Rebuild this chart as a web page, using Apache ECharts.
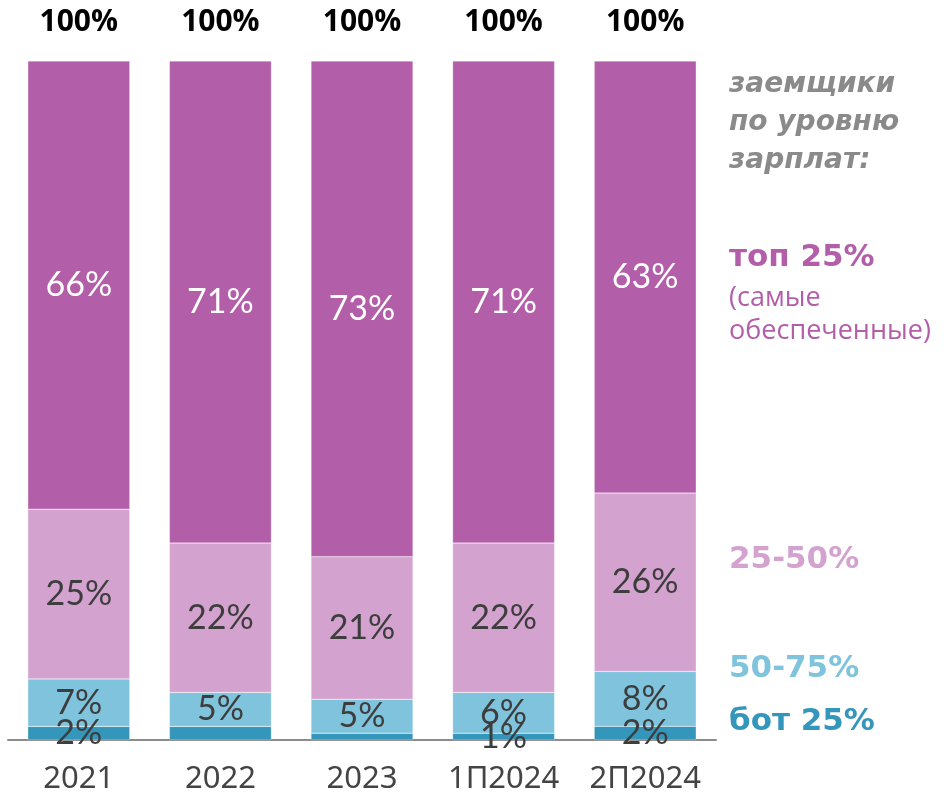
<!DOCTYPE html>
<html>
<head>
<meta charset="utf-8">
<script src="https://cdn.jsdelivr.net/npm/echarts@6/dist/echarts.min.js"></script>
<style>
  html, body { margin: 0; padding: 0; background: #fff; }
  #chart { width: 944px; height: 795px; }
</style>
</head>
<body>
<div id="chart"></div>
<script>
// periods and shares of borrowers by salary level, %
const categories = ["2021", "2022", "2023", "1П2024", "2П2024"];
const bot25 = [2, 2, 1, 1, 2];
const mid5075 = [7, 5, 5, 6, 8];
const mid2550 = [25, 22, 21, 22, 26];
const top25 = [66, 71, 73, 71, 63];
const totals = [100, 100, 100, 100, 100];
// bottom labels are hidden where the segment is too thin (2022, 2023)
const botLabelShown = [true, false, false, true, true];

const colors = {
  top: "#b35ea8",
  mid2550: "#d4a2ce",
  mid5075: "#7fc3dc",
  bot: "#3396ba",
};

// bars are drawn as share of the column sum so every column reaches 100%
const sums = categories.map((_, i) => bot25[i] + mid5075[i] + mid2550[i] + top25[i]);
const norm = (arr) => arr.map((v, i) => (v / sums[i]) * 100);

const labelFont = "Lato, 'Open Sans', sans-serif";
const legendFont = "'DejaVu Sans', sans-serif";

function makeSeries(name, values, color) {
  return {
    name: name,
    type: "bar",
    stack: "total",
    barWidth: 102,
    data: norm(values),
    itemStyle: { color: color, borderColor: "rgba(255,255,255,0.5)", borderWidth: 0.5 },
    label: {
      show: true,
      position: "inside",
      fontFamily: labelFont,
      fontSize: 34,
      color: "#3d3d3d",
      formatter: (p) => values[p.dataIndex] + "%",
    },
  };
}

const botSeries = makeSeries("бот 25%", bot25, colors.bot);
botSeries.data = botSeries.data.map((v, i) => ({ value: v, label: { show: botLabelShown[i] } }));

const topSeries = makeSeries("топ 25%", top25, colors.top);
topSeries.label.color = "#ffffff";

// invisible helper series for the "100%" totals above each column
const totalSeries = {
  name: "total",
  type: "bar",
  stack: "total",
  barWidth: 102,
  data: totals.map(() => 0),
  itemStyle: { color: "transparent" },
  label: {
    show: true,
    position: "top",
    distance: 24,
    fontFamily: "'Open Sans', sans-serif",
    fontWeight: "bold",
    fontSize: 30,
    color: "#000",
    formatter: (p) => totals[p.dataIndex] + "%",
  },
  silent: true,
};

function legendText(text, y, font, fill) {
  return {
    type: "text",
    x: 729,
    y: y,
    style: { text: text, font: font, fill: fill, verticalAlign: "middle" },
  };
}

const option = {
  backgroundColor: "#fff",
  animation: false,
  grid: {
    left: 8,
    right: 228,
    top: 61,
    bottom: 55,
  },
  xAxis: {
    type: "category",
    data: categories,
    axisTick: { show: false },
    axisLine: { lineStyle: { color: "#8c8c8c", width: 2 } },
    axisLabel: {
      interval: 0,
      hideOverlap: false,
      margin: 24,
      fontFamily: "'Noto Sans', sans-serif",
      fontSize: 31,
      color: "#444",
    },
  },
  yAxis: {
    type: "value",
    min: 0,
    max: 100,
    show: false,
    splitLine: { show: false },
  },
  series: [
    botSeries,
    makeSeries("50-75%", mid5075, colors.mid5075),
    makeSeries("25-50%", mid2550, colors.mid2550),
    topSeries,
    totalSeries,
  ],
  graphic: [
    legendText("заемщики", 85, "italic bold 28px " + legendFont, "#8a8a8a"),
    legendText("по уровню", 123, "italic bold 28px " + legendFont, "#8a8a8a"),
    legendText("зарплат:", 161, "italic bold 28px " + legendFont, "#8a8a8a"),
    legendText("топ 25%", 258, "bold 31px " + legendFont, colors.top),
    legendText("(самые", 298, "27px 'Open Sans', sans-serif", colors.top),
    legendText("обеспеченные)", 331, "27px 'Open Sans', sans-serif", colors.top),
    legendText("25-50%", 560, "bold 31px " + legendFont, colors.mid2550),
    legendText("50-75%", 669, "bold 31px " + legendFont, colors.mid5075),
    legendText("бот 25%", 722, "bold 31px " + legendFont, colors.bot),
  ],
};

const myChart = echarts.init(document.getElementById("chart"));
myChart.setOption(option);
</script>
</body>
</html>
